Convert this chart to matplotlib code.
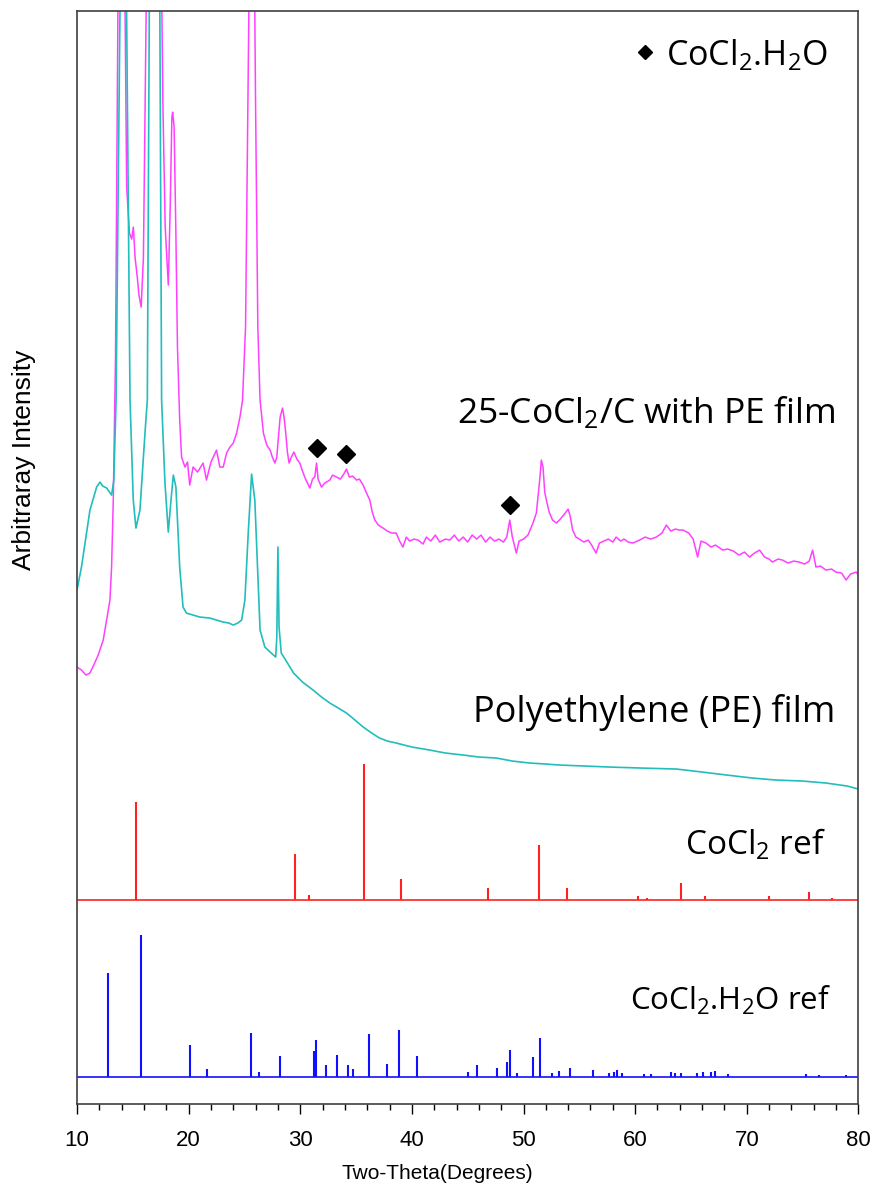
import matplotlib
matplotlib.use('Agg')
import matplotlib.pyplot as plt

# XRD patterns, intensities in arbitrary (offset) units
pe_x = [10.0, 10.4, 11.16, 11.76, 12.06, 12.3, 12.66, 13.1, 13.3, 13.5, 13.9, 14.15, 14.4, 14.75,
        15.04, 15.28, 15.64, 16.09, 16.3, 16.5, 16.95, 17.4, 17.58, 17.88, 18.18, 18.42, 18.63,
        18.86, 19.2, 19.5, 19.8, 20.4, 21.0, 21.9, 22.5, 23.1, 23.6, 24.0, 24.4, 24.75, 25.04,
        25.34, 25.64, 25.93, 26.23, 26.4, 26.83, 27.3, 27.8, 27.9, 28.0, 28.1, 28.3, 28.8, 29.4,
        30.2, 31.15, 31.9, 32.65, 33.4, 34.15, 34.9, 35.64, 36.4, 37.1, 37.8, 38.6, 40.0, 41.6,
        43.0, 44.6, 46.0, 47.57, 49.0, 50.56, 52.0, 53.2, 55.5, 57.7, 60.5, 63.7, 66.0, 68.2,
        70.5, 72.6, 75.0, 77.1, 79.0, 80.0]
pe_y = [517, 540, 597, 620, 625, 621, 619, 612, 627, 707, 1150, 1300, 1150, 707,
        607, 579, 597, 674, 707, 1150, 1500, 1150, 707, 624, 575, 607, 632,
        620, 540, 500, 494, 492, 490, 489, 487, 485, 484, 482, 484, 487, 507,
        574, 633, 607, 524, 477, 460, 455, 450, 470, 560, 480, 454, 445, 434,
        425, 417, 410, 404, 399, 394, 387, 380, 374, 369, 366, 364, 360, 357,
        354, 352, 350, 349, 346, 344, 343, 342, 341, 340, 339, 338, 335, 332,
        329, 327, 326, 324, 321, 318]

film_x = [10.0, 10.4, 10.8, 11.16, 11.5, 11.9, 12.35, 12.7, 12.95, 13.1, 13.25, 13.45, 13.7, 14.1,
          14.45, 14.7, 14.9, 15.05, 15.2, 15.4, 15.55, 15.75, 15.95, 16.1, 16.3, 16.9, 17.5, 17.7,
          17.9, 18.18, 18.35, 18.5, 18.57, 18.7, 18.85, 19.0, 19.2, 19.37, 19.67, 19.9, 20.1, 20.4,
          20.8, 21.3, 21.6, 22.0, 22.5, 22.8, 23.1, 23.4, 23.7, 24.0, 24.3, 24.6, 24.83, 25.1,
          25.3, 25.7, 26.0, 26.2, 26.4, 26.7, 27.0, 27.3, 27.5, 27.73, 27.9, 28.0, 28.2, 28.41,
          28.55, 28.7, 28.85, 29.0, 29.2, 29.43, 29.7, 29.96, 30.2, 30.4, 30.6, 30.86, 31.1, 31.3,
          31.46, 31.6, 31.9, 32.2, 32.65, 32.9, 33.25, 33.6, 33.9, 34.14, 34.4, 34.7, 35.04, 35.3,
          35.63, 35.9, 36.23, 36.45, 36.68, 37.0, 37.42, 37.8, 38.2, 38.6, 38.9, 39.2, 39.5, 39.8,
          40.2, 40.55, 41.0, 41.3, 41.7, 42.1, 42.5, 43.0, 43.4, 43.8, 44.2, 44.6, 45.0, 45.4,
          45.8, 46.2, 46.6, 47.0, 47.4, 47.8, 48.2, 48.5, 48.77, 49.0, 49.36, 49.6, 50.0, 50.4,
          50.85, 51.15, 51.45, 51.6, 51.75, 51.9, 52.05, 52.3, 52.6, 52.95, 53.3, 53.6, 53.8, 54.0,
          54.2, 54.4, 54.7, 55.0, 55.4, 55.8, 56.1, 56.5, 56.8, 57.2, 57.6, 58.0, 58.3, 58.7,
          59.0, 59.4, 59.8, 60.4, 60.9, 61.4, 61.9, 62.4, 62.8, 63.2, 63.6, 63.98, 64.3, 64.8,
          65.2, 65.6, 65.9, 66.35, 66.8, 67.2, 67.85, 68.3, 68.8, 69.3, 69.8, 70.25, 70.7, 71.15,
          71.6, 72.0, 72.3, 72.8, 73.2, 73.7, 74.2, 74.7, 75.2, 75.6, 75.9, 76.2, 76.6, 77.1,
          77.6, 78.0, 78.5, 78.9, 79.3, 79.8, 80.0]
film_y = [440, 437, 432, 434, 442, 452, 467, 490, 507, 540, 607, 750, 1150, 1350,
          920, 874, 868, 880, 850, 830, 812, 800, 850, 1000, 1200, 1500, 1200, 1000,
          880, 822, 900, 990, 995, 980, 880, 760, 687, 650, 640, 645, 622, 640,
          635, 644, 627, 645, 657, 640, 640, 654, 660, 664, 674, 690, 707, 780,
          1000, 1400, 1000, 780, 707, 674, 662, 657, 650, 644, 650, 664, 690, 699,
          690, 674, 655, 644, 650, 655, 648, 644, 636, 630, 625, 619, 628, 630,
          644, 628, 620, 624, 627, 632, 630, 628, 633, 638, 630, 631, 627, 628,
          622, 615, 607, 595, 587, 582, 579, 576, 574, 574, 566, 560, 570, 566,
          568, 567, 563, 570, 566, 572, 565, 568, 567, 572, 566, 570, 565, 572,
          568, 572, 565, 570, 566, 568, 565, 570, 587, 570, 554, 566, 568, 572,
          584, 594, 627, 647, 640, 615, 607, 595, 587, 584, 588, 592, 595, 598,
          590, 577, 570, 568, 565, 567, 562, 554, 564, 566, 568, 565, 570, 566,
          568, 565, 564, 567, 570, 568, 570, 574, 582, 576, 578, 577, 577, 574,
          568, 550, 566, 564, 560, 562, 557, 558, 556, 552, 555, 550, 554, 557,
          550, 548, 545, 548, 547, 544, 546, 545, 543, 546, 557, 540, 541, 537,
          538, 535, 534, 527, 533, 535, 532]

cocl2_base = 207
cocl2_pos = [15.25, 29.52, 30.8, 35.7, 39.0, 46.85, 51.36, 53.9, 60.3, 61.1, 64.13, 66.3, 72.0, 75.6, 77.6]
cocl2_int = [305, 253, 212, 343, 228, 219, 262, 219, 211, 209, 224, 211, 211, 215, 209]

hyd_base = 30
hyd_pos = [12.75, 15.7, 20.12, 21.61, 25.58, 26.32, 28.17, 31.2, 31.4, 32.35, 33.3, 34.3, 34.7,
           36.17, 37.8, 38.83, 40.47, 45.0, 45.87, 47.66, 48.52, 48.8, 49.4, 50.86, 51.48, 52.55,
           53.2, 54.2, 56.2, 57.7, 58.1, 58.4, 58.8, 60.8, 61.4, 63.2, 63.6, 64.1, 65.5, 66.1,
           66.8, 67.2, 68.3, 75.3, 76.5, 78.9]
hyd_int = [134, 172, 62, 38, 74, 35, 51, 56, 67, 42, 52, 42, 38,
           73, 43, 77, 51, 35, 42, 39, 45, 57, 34, 50, 69, 34,
           36, 39, 37, 34, 35, 37, 34, 33, 33, 35, 34, 34, 34, 35,
           35, 36, 33, 33, 32, 32]

marker_x = [31.51, 34.14, 48.77]
marker_y = [659, 653, 602]

names = ['25-CoCl$_2$/C with PE film', 'Polyethylene (PE) film', 'CoCl$_2$ ref', 'CoCl$_2$.H$_2$O ref']
name_x = [77.95, 77.95, 77.1, 77.55]
name_y = [684, 385, 252, 97]
name_size = [25.5, 26, 24, 22.5]

plt.rcParams['mathtext.default'] = 'regular'
names_font = ['Open Sans', 'DejaVu Sans']
axis_font = 'Liberation Sans'

fig = plt.figure(figsize=(8.75, 11.97), dpi=100)
ax = fig.add_axes([0.088, 0.0777, 0.893, 0.913])

ax.plot(film_x, film_y, color='#ff40ff', lw=1.1)
ax.plot(pe_x, pe_y, color='#22bdbd', lw=1.2)
ax.hlines(cocl2_base, 10, 80, color='#ff2020', lw=1.2)
ax.vlines(cocl2_pos, cocl2_base, cocl2_int, color='#ff2020', lw=1.5)
ax.hlines(hyd_base, 10, 80, color='#1010ff', lw=1.2)
ax.vlines(hyd_pos, hyd_base, hyd_int, color='#1010ff', lw=1.5)

ax.plot(marker_x, marker_y, 'D', color='black', ms=9.5, ls='none')
ax.plot([60.85], [1055], 'D', color='black', ms=7.5, clip_on=False)
ax.text(62.8, 1042, 'CoCl$_2$.H$_2$O', ha='left', va='baseline', fontsize=24.5, family=names_font)

for n, tx, ty, fs in zip(names, name_x, name_y, name_size):
    ax.text(tx, ty, n, ha='right', va='baseline', fontsize=fs, family=names_font)

ax.set_xlim(10, 80)
ax.set_ylim(3, 1096)
ax.set_yticks([])
ax.set_xticks(range(10, 81, 10))
ax.set_xticks(range(10, 81, 2), minor=True)
ax.tick_params(axis='x', which='major', direction='out', length=7, width=1, labelsize=16, pad=12)
ax.tick_params(axis='x', which='minor', direction='out', length=4.5, width=1)
for lab in ax.get_xticklabels():
    lab.set_family(axis_font)
for sp in ax.spines.values():
    sp.set_color('#404040')
    sp.set_linewidth(1.2)

ax.set_xlabel('Two-Theta(Degrees)', family=axis_font, fontsize=15)
ax.xaxis.set_label_coords(0.461, -0.055)
ax.set_ylabel('Arbitraray Intensity', family=axis_font, fontsize=19)
ax.yaxis.set_label_coords(-0.053, 0.589)

fig.savefig('out.png', dpi=100)
